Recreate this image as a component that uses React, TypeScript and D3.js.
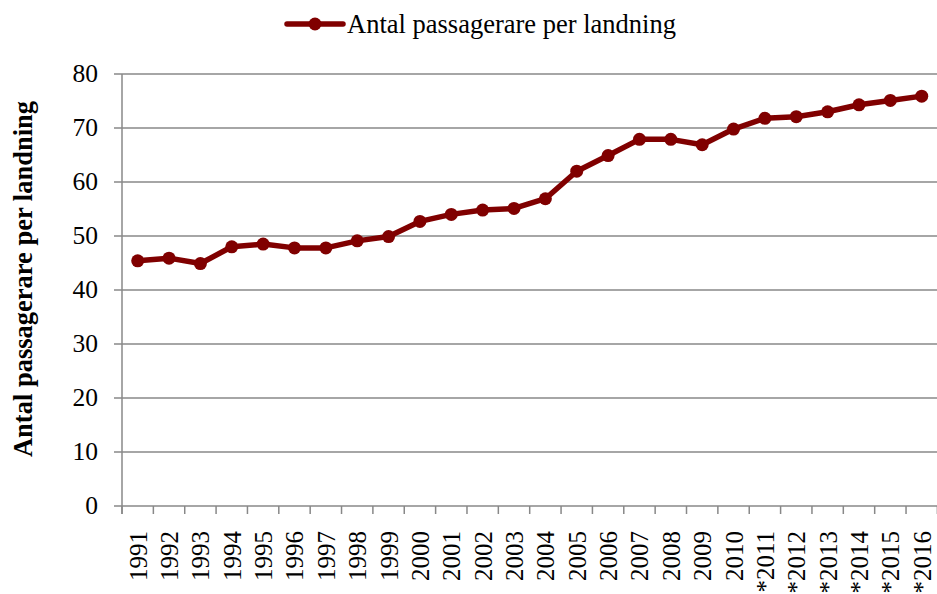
import React from "react";
import * as d3 from "d3";

const categories = ["1991","1992","1993","1994","1995","1996","1997","1998","1999","2000","2001","2002","2003","2004","2005","2006","2007","2008","2009","2010","*2011","*2012","*2013","*2014","*2015","*2016"];
const values = [45.4,45.9,44.9,48.0,48.5,47.8,47.8,49.1,49.9,52.7,54.0,54.8,55.1,56.9,62.0,64.9,67.9,67.9,66.9,69.8,71.8,72.1,73.0,74.3,75.1,75.9];
const yTicks = [0,10,20,30,40,50,60,70,80];
const seriesName = "Antal passagerare per landning";
const axisTitle = "Antal passagerare per landning";

const W = 937, H = 594;
const left = 122, right = 937.4, top = 74, bottom = 506;
const color = "#800000";
const grid = "#888888";
const font = "'Liberation Serif', 'Times New Roman', serif";

export default function App() {
  const x = d3.scaleBand<string>().domain(categories).range([left, right]);
  const y = d3.scaleLinear().domain([0, 80]).range([bottom, top]);
  const cx = (c: string) => (x(c) as number) + x.bandwidth() / 2;
  const line = d3.line<number>().x((_, i) => cx(categories[i])).y((d) => y(d));
  const tickXs = categories.map((c) => x(c) as number).concat([right]);

  return (
    <svg width={W} height={H} style={{ position: "absolute", left: 0, top: 0 }} fontFamily={font}>
      <rect width={W} height={H} fill="#fff" />
      {yTicks.map((t) => (
        <line key={t} x1={left - 8} x2={W} y1={y(t)} y2={y(t)} stroke={grid} strokeWidth={1.5} />
      ))}
      <line x1={left} x2={left} y1={top} y2={bottom + 8} stroke={grid} strokeWidth={1.5} />
      {tickXs.map((t, i) => (
        <line key={i} x1={t} x2={t} y1={bottom} y2={bottom + 8} stroke={grid} strokeWidth={1.5} />
      ))}
      {yTicks.map((t) => (
        <text key={t} x={98} y={y(t)} dy="0.33em" textAnchor="end" fontSize={25.5} fill="#000">{t}</text>
      ))}
      {categories.map((c) => (
        <text key={c} transform={`translate(${cx(c) + 9},531) rotate(-90)`} textAnchor="end" fontSize={25} fill="#000">{c}</text>
      ))}
      <text transform={`translate(32,279) rotate(-90)`} textAnchor="middle" fontSize={26.5} fontWeight="bold" fill="#000">{axisTitle}</text>
      <path d={line(values) as string} fill="none" stroke={color} strokeWidth={5.5} strokeLinejoin="round" />
      {values.map((v, i) => (
        <circle key={i} cx={cx(categories[i])} cy={y(v)} r={6.5} fill={color} />
      ))}
      <line x1={287} x2={343} y1={24} y2={24} stroke={color} strokeWidth={5.5} strokeLinecap="round" />
      <circle cx={315} cy={24} r={6.5} fill={color} />
      <text x={347} y={24} dy="0.35em" fontSize={26.5} fill="#000">{seriesName}</text>
    </svg>
  );
}
